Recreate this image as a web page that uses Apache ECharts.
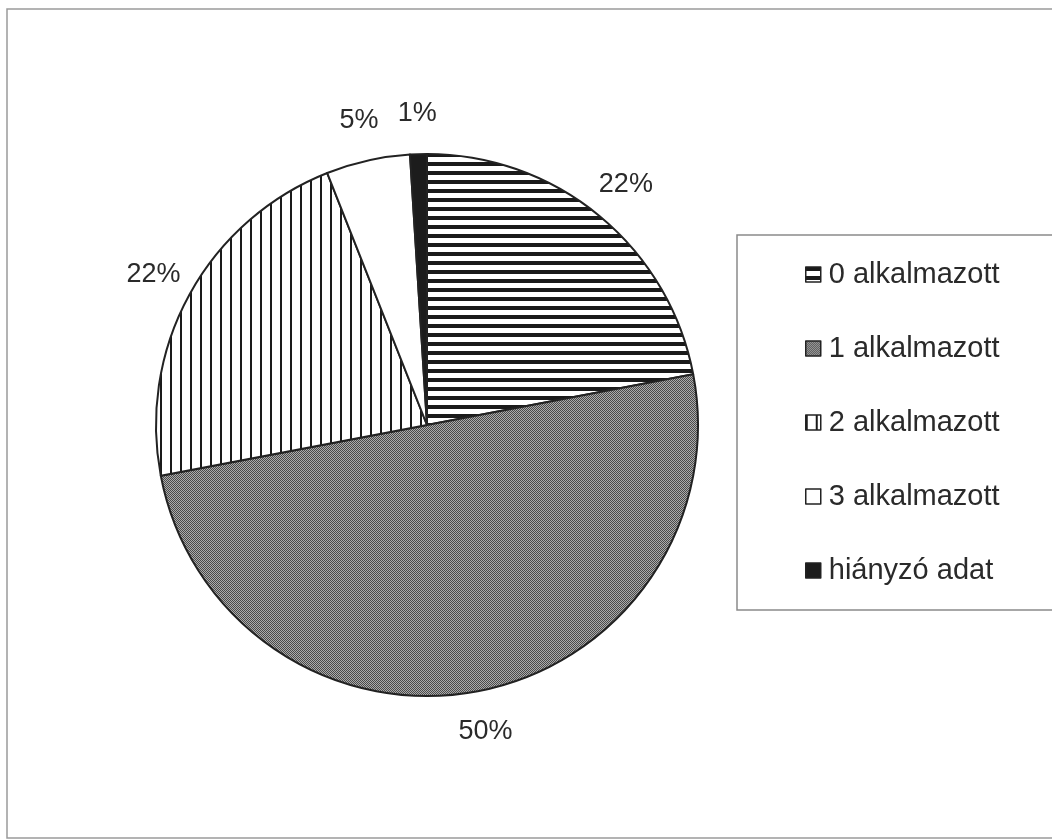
<!DOCTYPE html>
<html>
<head>
<meta charset="utf-8">
<script src="https://cdn.jsdelivr.net/npm/echarts@6/dist/echarts.min.js"></script>
<style>
    html, body { margin: 0; padding: 0; background: #fff; }
    #chart { width: 1052px; height: 840px; }
</style>
</head>
<body>
<div id="chart"></div>
<script>
    // adatok
    var categories = ['0 alkalmazott', '1 alkalmazott', '2 alkalmazott', '3 alkalmazott', 'hiányzó adat'];
    var values = [22, 50, 22, 5, 1];

    // mintázatok (fekete-fehér nyomat)
    function makePattern(w, h, draw) {
        var c = document.createElement('canvas');
        c.width = w;
        c.height = h;
        var ctx = c.getContext('2d');
        ctx.fillStyle = '#fff';
        ctx.fillRect(0, 0, w, h);
        draw(ctx);
        return { image: c, repeat: 'repeat' };
    }
    var hStripes = makePattern(9, 9, function (ctx) {
        ctx.fillStyle = '#1a1a1a';
        ctx.fillRect(0, 0, 9, 4);
    });
    var dots = makePattern(2, 2, function (ctx) {
        ctx.fillStyle = '#acacac';
        ctx.fillRect(0, 0, 2, 2);
        ctx.fillStyle = '#4a4a4a';
        ctx.fillRect(0, 0, 1, 1);
        ctx.fillRect(1, 1, 1, 1);
    });
    var vStripes = makePattern(10, 10, function (ctx) {
        ctx.fillStyle = '#1a1a1a';
        ctx.fillRect(0, 0, 2, 10);
    });
    var fills = [hStripes, dots, vStripes, '#ffffff', '#1c1c1c'];

    var data = [];
    for (var i = 0; i < categories.length; i++) {
        data.push({ name: categories[i], value: values[i], itemStyle: { color: fills[i] } });
    }

    var dom = document.getElementById('chart');
    var myChart = echarts.init(dom);
    var option = {
        animation: false,
        textStyle: { fontFamily: '"Liberation Sans", Arial, sans-serif' },
        graphic: [{
            type: 'rect',
            shape: { x: 7, y: 9, width: 1100, height: 829 },
            style: { fill: 'none', stroke: '#9a9a9a', lineWidth: 1.5 },
            silent: true
        }],
        legend: {
            orient: 'vertical',
            left: 737,
            top: 235,
            padding: [25, 90, 25, 68],
            itemGap: 45,
            itemWidth: 15,
            itemHeight: 15,
            icon: 'rect',
            borderColor: '#8a8a8a',
            borderWidth: 1.5,
            itemStyle: { borderColor: '#222', borderWidth: 1.5 },
            textStyle: { fontSize: 29, color: '#2a2a2a', padding: [0, 0, 0, 3] },
            data: categories
        },
        series: [{
            type: 'pie',
            center: [427, 425],
            radius: 271,
            startAngle: 90,
            clockwise: true,
            avoidLabelOverlap: false,
            itemStyle: { borderColor: '#222', borderWidth: 2 },
            label: {
                show: true,
                position: 'outside',
                formatter: '{d}%',
                fontSize: 27,
                color: '#2a2a2a',
                distanceToLabelLine: 0
            },
            labelLine: { show: false, length: 41, length2: 0 },
            labelLayout: { align: 'center' },
            emphasis: { disabled: true },
            data: data
        }]
    };
    myChart.setOption(option, true);
</script>
</body>
</html>
